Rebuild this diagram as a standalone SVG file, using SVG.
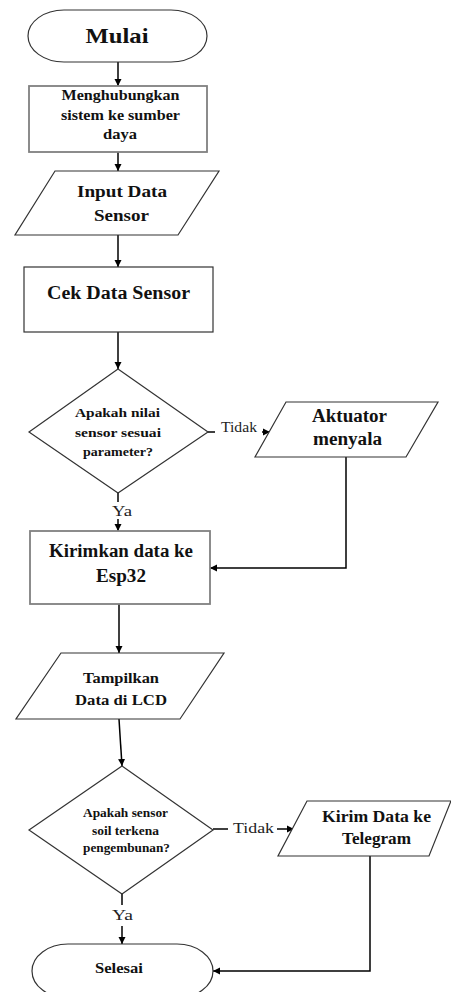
<svg xmlns="http://www.w3.org/2000/svg" width="451" height="992" viewBox="0 0 451 992">
<defs>
<marker id="ah" markerWidth="8" markerHeight="8" refX="7" refY="4" orient="auto" markerUnits="userSpaceOnUse">
<path d="M0,0.5 L7,4 L0,7.5 Z" fill="#000"/>
</marker>
<style>
.shape{fill:#fff;stroke:#333;stroke-width:1.2}
.gray{fill:#fff;stroke:#808080;stroke-width:1.8}
.t{font-family:'Liberation Serif','Times New Roman',serif;font-weight:bold;fill:#111;text-anchor:middle}
.lbl{font-family:'Liberation Serif','Times New Roman',serif;fill:#222;font-size:14px}
.c{fill:none;stroke:#000;stroke-width:1.5}
</style>
</defs>
<rect width="451" height="992" fill="#fff"/>
<g id="connectors">
<line class="c" x1="118" y1="62" x2="118" y2="86" marker-end="url(#ah)"/>
<line class="c" x1="118" y1="143" x2="118" y2="171" marker-end="url(#ah)"/>
<line class="c" x1="118" y1="235" x2="118" y2="267" marker-end="url(#ah)"/>
<line class="c" x1="118" y1="332" x2="118" y2="369" marker-end="url(#ah)"/>
<line class="c" x1="208" y1="432" x2="215" y2="432"/>
<line class="c" x1="262" y1="432" x2="270" y2="432" marker-end="url(#ah)"/>
<line class="c" x1="118" y1="493" x2="118" y2="502"/>
<line class="c" x1="118" y1="519" x2="118" y2="531" marker-end="url(#ah)"/>
<polyline class="c" points="346,457 346,568 210,568" marker-end="url(#ah)"/>
<line class="c" x1="119" y1="604" x2="119" y2="653" marker-end="url(#ah)"/>
<line class="c" x1="119" y1="719" x2="122" y2="766" marker-end="url(#ah)"/>
<line class="c" x1="213" y1="829" x2="228" y2="829"/>
<line class="c" x1="277" y1="829" x2="294" y2="829" marker-end="url(#ah)"/>
<line class="c" x1="122" y1="894" x2="122" y2="905"/>
<line class="c" x1="122" y1="926" x2="122" y2="944" marker-end="url(#ah)"/>
<polyline class="c" points="370,856 370,971 213,971" marker-end="url(#ah)"/>
<text class="lbl" x="221" y="432" textLength="36" lengthAdjust="spacingAndGlyphs">Tidak</text>
<text class="lbl" x="112" y="516" textLength="20" lengthAdjust="spacingAndGlyphs">Ya</text>
<text class="lbl" x="233" y="833" textLength="41" lengthAdjust="spacingAndGlyphs">Tidak</text>
<text class="lbl" x="112" y="920" textLength="21" lengthAdjust="spacingAndGlyphs">Ya</text>
</g>
<g id="mulai">
<rect class="shape" x="28" y="10" width="179" height="52" rx="36" ry="26"/>
<text class="t" x="117" y="43" font-size="21" textLength="63" lengthAdjust="spacingAndGlyphs">Mulai</text>
</g>
<g id="menghubungkan">
<rect class="gray" x="29" y="86" width="178" height="66"/>
<text class="t" x="120.5" y="100" font-size="14" textLength="118" lengthAdjust="spacingAndGlyphs">Menghubungkan</text>
<text class="t" x="120.5" y="120" font-size="14" textLength="119" lengthAdjust="spacingAndGlyphs">sistem ke sumber</text>
<text class="t" x="120" y="139" font-size="14" textLength="34" lengthAdjust="spacingAndGlyphs">daya</text>
</g>
<g id="input">
<polygon class="shape" points="55,171 219,171 178,235 15,235"/>
<text class="t" x="122" y="197" font-size="17" textLength="90" lengthAdjust="spacingAndGlyphs">Input Data</text>
<text class="t" x="121.5" y="221" font-size="17" textLength="55" lengthAdjust="spacingAndGlyphs">Sensor</text>
</g>
<g id="cek">
<rect class="shape" x="24" y="267" width="189" height="65"/>
<text class="t" x="118.5" y="299" font-size="18" textLength="143" lengthAdjust="spacingAndGlyphs">Cek Data Sensor</text>
</g>
<g id="decision1">
<polygon class="shape" points="118,369 208,432 118,493 29,432"/>
<text class="t" x="117.5" y="417" font-size="12.5" textLength="85" lengthAdjust="spacingAndGlyphs">Apakah nilai</text>
<text class="t" x="118" y="437" font-size="12.5" textLength="86" lengthAdjust="spacingAndGlyphs">sensor sesuai</text>
<text class="t" x="118" y="456" font-size="12.5" textLength="70" lengthAdjust="spacingAndGlyphs">parameter?</text>
</g>
<g id="aktuator">
<polygon class="shape" points="286,402 438,402 406,457 255,457"/>
<text class="t" x="349.5" y="422" font-size="18" textLength="75" lengthAdjust="spacingAndGlyphs">Aktuator</text>
<text class="t" x="347.5" y="445" font-size="18" textLength="69" lengthAdjust="spacingAndGlyphs">menyala</text>
</g>
<g id="kirimkan">
<rect class="gray" x="30" y="531" width="180" height="73"/>
<text class="t" x="121" y="557" font-size="18" textLength="144" lengthAdjust="spacingAndGlyphs">Kirimkan data ke</text>
<text class="t" x="121" y="582" font-size="18" textLength="50" lengthAdjust="spacingAndGlyphs">Esp32</text>
</g>
<g id="tampilkan">
<polygon class="shape" points="61,653 224,653 180,719 16,719"/>
<text class="t" x="121" y="683" font-size="15" textLength="76" lengthAdjust="spacingAndGlyphs">Tampilkan</text>
<text class="t" x="121" y="705" font-size="15" textLength="92" lengthAdjust="spacingAndGlyphs">Data di LCD</text>
</g>
<g id="decision2">
<polygon class="shape" points="122,766 213,830 122,894 29,830"/>
<text class="t" x="125.5" y="817" font-size="12" textLength="85" lengthAdjust="spacingAndGlyphs">Apakah sensor</text>
<text class="t" x="125.5" y="835" font-size="12" textLength="67" lengthAdjust="spacingAndGlyphs">soil terkena</text>
<text class="t" x="126.5" y="852" font-size="12" textLength="87" lengthAdjust="spacingAndGlyphs">pengembunan?</text>
</g>
<g id="telegram">
<polygon class="shape" points="307,801 451,801 429,856 278,856"/>
<text class="t" x="376.5" y="822" font-size="17" textLength="109" lengthAdjust="spacingAndGlyphs">Kirim Data ke</text>
<text class="t" x="376.5" y="844" font-size="17" textLength="69" lengthAdjust="spacingAndGlyphs">Telegram</text>
</g>
<g id="selesai">
<rect class="shape" x="32" y="944" width="181" height="54" rx="36" ry="27"/>
<text class="t" x="119" y="973" font-size="14" textLength="48" lengthAdjust="spacingAndGlyphs">Selesai</text>
</g>
</svg>
